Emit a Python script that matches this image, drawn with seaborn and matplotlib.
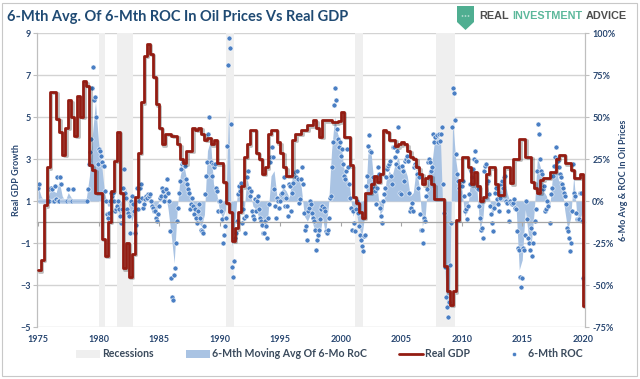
import matplotlib
matplotlib.use('Agg')
import matplotlib.pyplot as plt
import matplotlib.patheffects as pe
from matplotlib.patches import Polygon, Rectangle, Patch, Circle
from matplotlib.lines import Line2D
import numpy as np
import pandas as pd
import seaborn as sns

# Real GDP growth (YoY %), quarterly from 1975Q1
gdp_1975_1989 = [
    -2.3, -1.8, 0.8, 2.6,   6.2, 6.2, 4.9, 4.3,   3.2, 4.5, 5.8, 5.0,
    4.1, 6.0, 5.0, 6.7,     6.5, 2.7, 2.5, 1.4,   1.4, -0.8, -1.6, 0.0,
    1.5, 2.9, 4.3, 1.4,     -2.2, -1.0, -2.6, -1.5, 1.2, 3.3, 5.7, 7.9,
    8.5, 8.0, 6.9, 5.6,     4.5, 3.7, 4.2, 4.2,   4.1, 4.1, 3.7, 3.0,
    2.8, 3.4, 3.4, 4.5,     4.4, 4.5, 4.2, 3.9,   4.0, 3.7, 3.9, 2.8,
]
gdp_1990_2004 = [
    2.8, 1.9, 0.9, 0.5,     -0.9, -0.3, 0.5, 1.7,  3.1, 3.7, 4.4, 4.4,
    3.3, 3.0, 2.3, 2.6,     4.2, 4.4, 4.4, 3.8,   3.3, 2.6, 2.2, 2.2,
    3.9, 4.2, 4.2, 4.4,     4.4, 4.6, 4.6, 4.85,  4.5, 4.05, 4.85, 4.85,
    4.85, 4.75, 4.75, 4.8,  5.25, 4.05, 4.05, 2.7, 1.2, 0.9, 0.5, 0.2,
    1.4, 1.4, 1.8, 2.2,     1.9, 2.3, 4.4, 4.3,   3.9, 3.9, 3.6, 3.7,
]
gdp_2005_2020 = [
    3.8, 3.7, 3.4, 3.1,     3.0, 2.6, 2.3, 1.8,   2.1, 2.2, 1.8, 1.1,
    1.1, 1.1, -2.1, -3.3,   -3.95, -3.3, 0.1, 2.0, 3.1, 3.1, 2.6, 1.8,
    2.4, 1.7, 1.0, 1.2,     2.3, 2.6, 2.6, 1.8,   1.3, 1.3, 2.6, 2.6,
    1.85, 3.0, 3.0, 3.95,   3.95, 3.1, 3.1, 1.9,  1.6, 1.4, 2.0, 2.1,
    2.1, 2.4, 2.4, 3.0,     3.2, 3.2, 2.8, 2.8,   2.5, 2.1, 2.1, 2.3,
    -4.0,
]

# 6-month moving average of 6-month ROC in oil prices (%), quarterly from 1975Q1
area_1975_1989 = [
    9, 3, 0, 0,   6, 6, 5, 12,   3, 0, 5, 2,   0, 0, 0, 0,   2, 15, 40, 59,
    35, 22, 5, -3,   -3, 4, -5, -8,   -5, 8, -3, -12,   -5, 2, 3, 1,   3, 2, -4, -9,
    2, 6, 6, -5,   -20, -37, -5, 15,   23, 14, 8, -3,   -10, -13, -15, -8,   30, 36, 10, 5,
]
area_1990_2004 = [
    -6, -10, -5, 56,   -27, -15, 8, 2,   -9, 14, 6, -3,   -5, -10, -13, -17,   -8, 15, 18, 2,
    5, 8, 6, 2,   14, 16, 15, 8,   -9, -12, -8, -15,   -19, -22, -10, -20,   -2, 30, 50, 40,
    36, 20, 15, 8,   -9, -5, -15, -21,   -8, 28, 30, 10,   10, -8, -5, 12,   18, 15, 22, 26,
]
area_2005_2020 = [
    18, 20, 15, 3,   5, 20, 8, -15,   -8, 18, 20, 36,   40, 35, -20, -63,   -55, 48, 25, 12,
    8, -9, -5, 15,   18, 8, -17, -10,   14, 5, -9, -3,   3, 8, 14, 5,   -1, -1, -5, -41,
    -35, -5, -20, -25,   -5, 26, 20, 6,   3, -5, 15, 22,   12, 12, -5, -17,   -10, 15, -8, -12,
    -5,
]

# 6-month ROC in oil prices (%), monthly from Jan 1975
roc_1975_1984 = [
    8, 10, 0, 0, 0, 0, 0, 0, 0, 0, 0, 0,
    7, 8, 7, 0, 0, 9, 1, 14, 0, 0, 14, 10,
    0, 0, 0, 0, 0, 0, 7, 0, 0, 0, 0, 7,
    0, 0, 0, 0, 0, 0, 0, 0, 0, 0, 0, 0,
    0, 0, 7, 22, 29, 37, 67, 80, 60, 62, 50, 22,
    31, 30, 27, 23, 21, 21, 6, 0, -8, -10, -7, 0,
    5, 3, 5, 0, -6, -5, -3, 0, -5, -9, -13, -5,
    8, 19, 5, 2, -5, -7, -9, -19, 0, 3, -2, -6,
    -19, -14, 8, -5, 0, 8, 10, 2, -4, -2, 1, 3,
    2, 4, 3, 4, 0, -3, -4, -6, -6, -10, -12, -8,
]
roc_1985_1994 = [
    -3, 2, 3, 8, 6, 0, 3, 7, 13, 5, 0, -18,
    -46, -57, -59, -44, -40, -25, -12, -4, 5, 12, 19, 22,
    23, 22, 21, 13, 10, 7, 5, -5, -2, 2, -3, -8,
    -5, -10, -13, -6, -2, -10, -17, -18, -19, -15, 4, 15,
    23, 40, 50, 23, 15, 22, 20, 22, 8, 6, -6, 0,
    0, -6, -11, -25, -20, -15, -10, 33, 81, 97, 91, 46,
    -39, -45, -36, -22, -19, -12, 4, 9, 6, 11, -13, -5,
    -10, -19, -9, 14, 18, 8, 3, 6, -6, -9, -11, 1,
    -6, 0, 3, -5, -10, -12, -14, -19, -19, -12, -15, -22,
    -10, -2, 23, 26, 32, 26, 7, -3, -10, 2, 0, -4,
]
roc_1995_2004 = [
    0, 4, 5, 9, 14, -3, 2, -3, -9, 10, 9, -6,
    5, 11, 16, 17, 14, 18, 13, -1, 1, 13, 20, 10,
    -7, -17, -15, -23, -6, -4, 0, -2, -7, -10, -12, -17,
    -29, -23, -20, -17, -11, -5, -3, -4, -6, -18, -19, -17,
    -10, 2, 3, 20, 35, 57, 67, 60, 43, 37, 32, 35,
    27, 31, 22, 15, 13, 18, 31, 20, 10, 2, -4, -17,
    -6, -13, -18, -5, 0, -7, -15, -20, -23, -27, -30, -21,
    -20, 9, 15, 33, 39, 30, 29, 10, 14, 8, 6, -2,
    8, 20, 16, -4, -9, -13, 0, 4, 8, 14, 19, 21,
    22, 24, 15, 10, 32, 32, 26, 22, 30, 44, 20, 5,
]
roc_2005_2014 = [
    4, 21, 18, 12, 24, 25, 27, 24, 5, -6, -4, -1,
    -6, 20, 22, 21, 16, 8, 14, -8, -17, -17, -25, -10,
    -12, 3, 7, 23, 25, 23, 18, 20, 40, 35, 38, 39,
    35, 40, 36, 40, 44, 10, -7, -39, -57, -63, -69, -60,
    -38, -13, 44, 67, 64, 48, 28, 16, 12, 8, 10, 9,
    9, 12, 3, -6, -5, -11, -3, 4, 10, 18, 14, 19,
    25, 30, 24, 8, 7, -3, -10, -17, -16, -22, 18, 21,
    22, 11, 12, 4, -3, -8, -13, -18, -4, 5, 8, 1,
    -2, -6, 2, 10, 12, 8, 14, 15, 0, -1, -6, -12,
    0, -1, -2, -1, 1, -4, -5, -18, -28, -29, -45, -51,
]
roc_2015_2020 = [
    -46, -28, -29, -20, 0, -11, -22, -25, -29, -16, -33, -25,
    -19, -12, -5, 18, 46, 40, 25, 18, 16, 7, 9, -6,
    -5, 0, -3, -13, 4, 8, 15, 21, 26, 32, 25, 24,
    20, 16, 14, 10, 8, 5, 3, -2, -16, -18, -22, -30,
    -25, -6, 22, 5, 3, -7, -11, -11, -11, 5, 5, -12,
    -46,
]

# recessions (start, end) in decimal years
rec_start = [1980.0, 1981.55, 1990.55, 2001.2, 2007.9]
rec_end = [1980.5, 1982.85, 1991.2, 2001.85, 2009.45]

x_ticks = [1975, 1980, 1985, 1990, 1995, 2000, 2005, 2010, 2015, 2020]
gdp_ticks = [-5, -3, -1, 1, 3, 5, 7, 9]
roc_ticks = [-75, -50, -25, 0, 25, 50, 75, 100]

gdp = gdp_1975_1989 + gdp_1990_2004 + gdp_2005_2020
area = area_1975_1989 + area_1990_2004 + area_2005_2020
roc = roc_1975_1984 + roc_1985_1994 + roc_1995_2004 + roc_2005_2014 + roc_2015_2020

qd = pd.date_range('1975-01-01', periods=len(gdp), freq='QS')
qyear = np.asarray(qd.year + (qd.month - 1) / 12.0)
md = pd.date_range('1975-01-01', periods=len(roc), freq='MS')
df_roc = pd.DataFrame({'year': md.year + (md.month - 1) / 12.0, 'roc': roc})
x_end = qyear[-1] + 0.25
df_gdp = pd.DataFrame({'year': np.append(qyear, x_end), 'gdp': gdp + [gdp[-1]]})

sns.set_style('white')
plt.rcParams['font.family'] = ['Lato', 'DejaVu Sans']
plt.rcParams['font.weight'] = 'bold'

navy = '#284670'
fig = plt.figure(figsize=(6.4, 3.79), dpi=100)
ax = fig.add_axes([0.0584, 0.1372, 0.856, 0.7757])
ax2 = ax.twinx()
ax.set_zorder(2)
ax2.set_zorder(1)
ax.patch.set_visible(False)

# oil axis: grid, recessions, area, dots
ax2.set_axisbelow(True)
ax2.grid(axis='y', color='#d3d3d3', lw=1.0)
for s, e in zip(rec_start, rec_end):
    ax2.axvspan(s, e, color='#efefef', lw=0, zorder=1)
ax2.fill_between(qyear, area, 0, color='#a9c3e3', lw=0, zorder=2)
sns.scatterplot(data=df_roc, x='year', y='roc', ax=ax2, s=13, color='#4a7fc4',
                edgecolor='white', linewidth=0.4, zorder=3, legend=False)
ax2.set_ylim(-75, 100)
ax2.set_yticks(roc_ticks)
ax2.set_yticklabels([f'{t}%' for t in roc_ticks])
ax2.set_ylabel('6-Mo Avg & ROC In Oil Prices', fontsize=6.5, fontweight='bold', color=navy)
ax2.yaxis.set_label_coords(1.062, 0.5)

# GDP axis
sns.lineplot(data=df_gdp, x='year', y='gdp', ax=ax, drawstyle='steps-post',
             color='#931c12', lw=2.0, zorder=4,
             path_effects=[pe.SimpleLineShadow(offset=(1, -1), alpha=0.25), pe.Normal()])
ax.set_ylim(-5, 9)
ax.set_yticks(gdp_ticks)
ax.set_xlim(1974.95, 2020.2)
ax.set_xticks(x_ticks)
ax.set_xlabel('')
ax.set_ylabel('Real GDP Growth', fontsize=6.5, fontweight='bold', color=navy)
ax.yaxis.set_label_coords(-0.029, 0.5)

# horizontal axis line at zero growth with ticks; labels stay at the bottom
zero_loc = (0 - ax.get_ylim()[0]) / (ax.get_ylim()[1] - ax.get_ylim()[0])
sec = ax.secondary_xaxis(zero_loc)
sec.set_xticks(x_ticks)
sec.tick_params(axis='x', length=3, color='#a6a6a6', labelbottom=False)
sec.spines['bottom'].set_color('#a6a6a6')
sec.spines['bottom'].set_linewidth(0.9)

for a in (ax, ax2):
    a.spines['top'].set_visible(False)
    a.spines['bottom'].set_visible(False)
    a.spines['left'].set_color('#bfbfbf')
    a.spines['right'].set_color('#bfbfbf')
    a.tick_params(labelsize=6.5, labelcolor=navy, color='#bfbfbf', length=3, pad=2)
ax.tick_params(axis='x', length=0, pad=6)

# title and logo
fig.text(0.011, 0.955, '6-Mth Avg. Of 6-Mth ROC In Oil Prices Vs Real GDP', fontsize=10.5,
         fontweight='bold', color='#1f4a73', va='center', ha='left')


def px(x, y):
    return (x / 640, 1 - y / 379)


fig.add_artist(Polygon([px(457, 6), px(474, 6), px(474, 22), px(465.5, 30), px(457, 22)],
                       closed=True, transform=fig.transFigure, facecolor='#4fae91',
                       edgecolor='none'))
for cx in (462.5, 465.5, 468.5):
    fig.add_artist(Circle(px(cx, 16), 0.9 / 640, transform=fig.transFigure,
                          facecolor='white', edgecolor='none'))

renderer = fig.canvas.get_renderer()
x_cursor = 479
for word, col in [('REAL', '#4d4d4d'), ('INVESTMENT', '#5cb89b'), ('ADVICE', '#4d4d4d')]:
    t = fig.text(x_cursor / 640, 1 - 16 / 379, word, fontsize=7.8, color=col, ha='left',
                 va='center', fontweight='semibold',
                 family=['Liberation Sans', 'DejaVu Sans'])
    x_cursor = t.get_window_extent(renderer).x1 + 3.5

# legend
handles = [Patch(facecolor='#efefef', edgecolor='none'),
           Patch(facecolor='#a9c3e3', edgecolor='none'),
           Line2D([], [], color='#931c12', lw=2.0),
           Line2D([], [], color='#4a7fc4', marker='o', ls='none', markersize=3,
                  markeredgecolor='white', markeredgewidth=0.4)]
labels = ['Recessions', '6-Mth Moving Avg Of 6-Mo RoC', 'Real GDP', '6-Mth ROC']
leg = fig.legend(handles, labels, loc='center', bbox_to_anchor=(0.515, 0.066), ncol=4,
                 frameon=False, fontsize=7.6, handlelength=2.3, handleheight=0.8,
                 handletextpad=0.2, columnspacing=3.0)
for t in leg.get_texts():
    t.set_fontweight('bold')
    t.set_color('#3a4a5c')

fig.add_artist(Rectangle((2 / 640, 3 / 379), 635 / 640, 373 / 379, transform=fig.transFigure,
                         fill=False, edgecolor='#c8c8c8', lw=0.8))

fig.savefig('out.png', dpi=100)
